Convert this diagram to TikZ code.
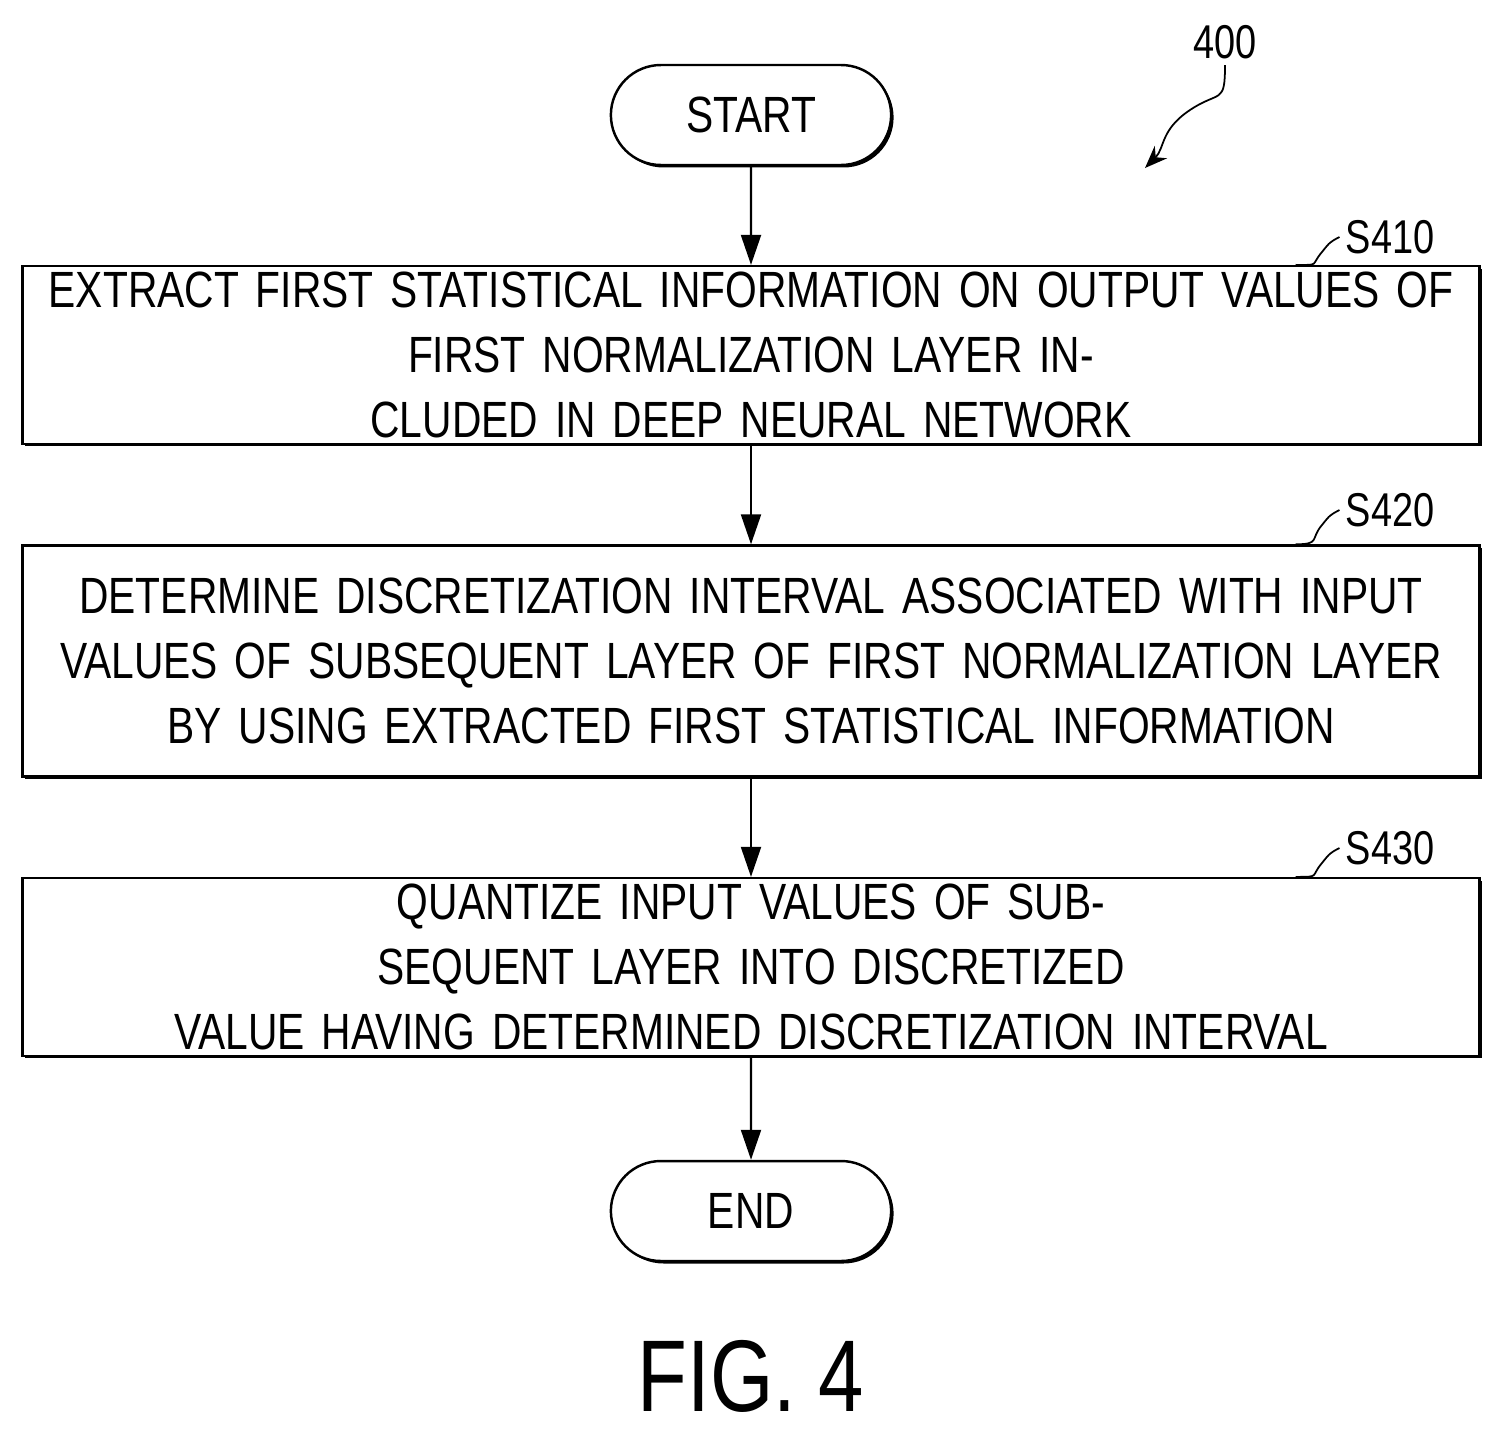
\documentclass[tikz,border=0pt]{standalone}
\usepackage{fontspec}
\setmainfont{Liberation Sans}[FakeStretch=0.8]
\usetikzlibrary{positioning,shapes.misc,arrows.meta,shadows}
\begin{document}
\begin{tikzpicture}[x=0.02cm,y=-0.02cm,
  box/.style={rectangle, draw=black, line width=1.4pt, minimum width=29.14cm, text width=28.6cm, align=center,
    font=\fontsize{29}{37}\selectfont, drop shadow={shadow xshift=0.05cm, shadow yshift=-0.05cm, opacity=1, fill=black}, fill=white},
  term/.style={rounded rectangle, draw=black, line width=1.4pt, minimum width=5.84cm, minimum height=2cm,
    font=\fontsize{29}{37}\selectfont, drop shadow={shadow xshift=0.05cm, shadow yshift=-0.05cm, opacity=1, fill=black}, fill=white},
  steplbl/.style={font=\fontsize{27}{30}\selectfont},
  flow/.style={-{Triangle[length=0.6cm,width=0.4cm]}, line width=1.2pt}]
\useasboundingbox (0,0) rectangle (1502,1431);
\node[term] (start) at (751,115) {START};
\node[box, minimum height=3.3cm] (s410) at (751,355) {EXTRACT FIRST STATISTICAL INFORMATION ON OUTPUT VALUES OF\\FIRST NORMALIZATION LAYER INCLUDED IN DEEP NEURAL NETWORK};
\node[box, minimum height=4.62cm] (s420) at (751,661) {DETERMINE DISCRETIZATION INTERVAL ASSOCIATED WITH INPUT\\VALUES OF SUBSEQUENT LAYER OF FIRST NORMALIZATION LAYER\\BY USING EXTRACTED FIRST STATISTICAL INFORMATION};
\node[box, minimum height=3.32cm] (s430) at (751,967) {QUANTIZE INPUT VALUES OF SUBSEQUENT LAYER INTO DISCRETIZED\\VALUE HAVING DETERMINED DISCRETIZATION INTERVAL};
\node[term] (end) at (751,1211) {END};
\draw[flow] (start) -- (s410);
\draw[flow] (s410) -- (s420);
\draw[flow] (s420) -- (s430);
\draw[flow] (s430) -- (end);
% step labels
\node[steplbl] (l410) at (1390,237) {S410};
\node[steplbl] (l420) at (1390,510) {S420};
\node[steplbl] (l430) at (1390,848) {S430};
\foreach \s in {410,420,430}
  \draw[line width=1pt] ([xshift=-3.7cm]s\s.north east) .. controls +(25,0) and +(-12,14) .. ([xshift=-0.35cm,yshift=-0.3cm]l\s.west) .. controls +(8,-10) .. (l\s.west);
% figure number
\node[font=\fontsize{27}{30}\selectfont] (num) at (1225,42) {400};
\coordinate (numend) at (1145,168);
\draw[line width=1pt, -{Stealth[length=0.45cm,width=0.35cm]}] (num.south) .. controls +(0,40) and +(30,-20) .. (1190,110) .. controls +(-30,20) and +(20,-20) .. (numend);
\node[font=\fontsize{58}{66}\selectfont] (fig) at (751,1376) {FIG. 4};
\end{tikzpicture}
\end{document}
